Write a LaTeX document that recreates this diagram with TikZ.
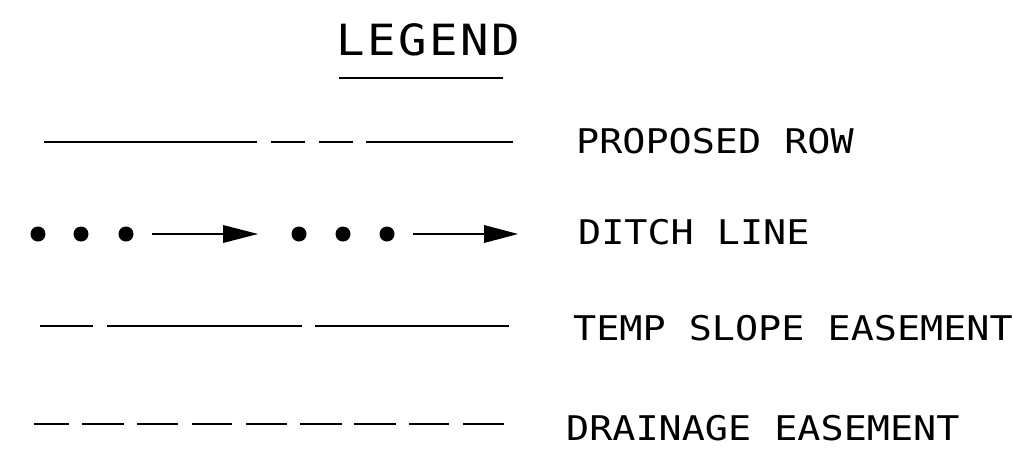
\documentclass[tikz,border=0pt]{standalone}
\usepackage{fontspec}
\newfontfamily\cadfont[FakeStretch=1.13]{DejaVu Sans Mono}
\newfontfamily\cadtitle[FakeStretch=1.1,LetterSpace=6]{DejaVu Sans Mono}
\tikzset{
  lbl/.style={anchor=base west, inner sep=0pt, font=\cadfont\fontsize{34}{34}\selectfont},
  ttl/.style={anchor=base west, inner sep=0pt, font=\cadtitle\fontsize{43}{43}\selectfont},
  ln/.style={line width=1.6pt, black},
  dotmark/.style={fill=black},
  shaft/.style={line width=1.3pt},
  head/.style={fill=black}
}
\begin{document}
\begin{tikzpicture}[x=1pt,y=-1pt]
\useasboundingbox (0,0) rectangle (1012,464);
% title
\node[ttl] (title) at (336,55) {LEGEND};
\draw[line width=1.2pt] (339,78) -- (503,78);
% row 1: proposed ROW
\draw[ln] (44,142) -- (257,142);
\draw[ln] (271,142) -- (305,142);
\draw[ln] (319,142) -- (353,142);
\draw[ln] (366,142) -- (513,142);
\node[lbl] (r1) at (576,153) {PROPOSED ROW};
% row 2: ditch line
\foreach \x in {38,81,126,299,343,387} \fill[dotmark] (\x,234) circle[radius=7.5pt];
\draw[shaft] (152,234) -- (225,234);
\fill[head] (223,225) -- (258,234) -- (223,243) -- cycle;
\draw[shaft] (413,234) -- (486,234);
\fill[head] (484,225) -- (518,234) -- (484,243) -- cycle;
\node[lbl] (r2) at (578,244) {DITCH LINE};
% row 3: temp slope easement
\draw[ln] (40,326) -- (93,326);
\draw[ln] (107,326) -- (302,326);
\draw[ln] (315,326) -- (509,326);
\node[lbl] (r3) at (573,340) {TEMP SLOPE EASEMENT};
% row 4: drainage easement
\foreach \a/\b in {34/69,82/124,137/178,192/232,246/287,300/342,354/396,409/449,463/504}
  \draw[ln] (\a,424) -- (\b,424);
\node[lbl] (r4) at (566,440) {DRAINAGE EASEMENT};
\end{tikzpicture}
\end{document}
